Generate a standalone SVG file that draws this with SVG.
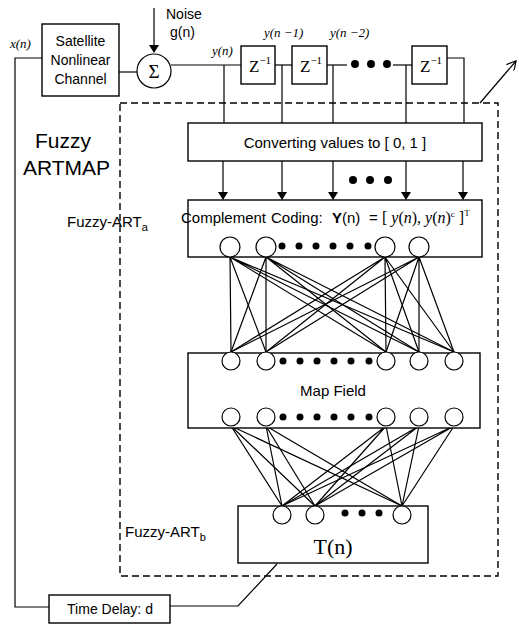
<svg xmlns="http://www.w3.org/2000/svg" width="519" height="624" viewBox="0 0 519 624">
<defs>
<marker id="ah" markerWidth="8" markerHeight="10" refX="7" refY="5" orient="auto" markerUnits="userSpaceOnUse">
<path d="M0,0 L8,5 L0,10 Z" fill="#000"/>
</marker>
<marker id="oa" markerWidth="10" markerHeight="10" refX="9" refY="5" orient="auto" markerUnits="userSpaceOnUse">
<path d="M0,0 L9,5 L0,10" fill="none" stroke="#000" stroke-width="1.2"/>
</marker>
</defs>
<style>
.b{fill:#fff;stroke:#000;stroke-width:1.4}
.l{fill:none;stroke:#000;stroke-width:1.2}
.c{fill:#fff;stroke:#000;stroke-width:1.2}
.d{fill:#000}
.s{font-family:"Liberation Sans",Arial,sans-serif;fill:#000}
.r{font-family:"Liberation Serif","Times New Roman",serif;fill:#000}
.i{font-family:"Liberation Serif","Times New Roman",serif;font-style:italic;fill:#000}
</style>
<rect width="519" height="624" fill="#fff"/>

<g id="connectors">
<path class="l" d="M154,8 V52" marker-end="url(#ah)"/>
<path class="l" d="M42,58 H15 V607 H49"/>
<path class="l" d="M119,72 H137"/>
<path class="l" d="M171,65 H241"/>
<path class="l" d="M275,65 H292"/>
<path class="l" d="M327,65 H347"/>
<path class="l" d="M393,65 H412"/>
<path class="l" d="M447,58 H464 V123"/>
<path class="l" d="M224,65 V123"/>
<path class="l" d="M282,65 V123"/>
<path class="l" d="M333,65 V123"/>
<path class="l" d="M406,65 V123"/>
<path class="l" d="M223,161 V199" marker-end="url(#ah)"/>
<path class="l" d="M282,161 V199" marker-end="url(#ah)"/>
<path class="l" d="M333,161 V199" marker-end="url(#ah)"/>
<path class="l" d="M406,161 V199" marker-end="url(#ah)"/>
<path class="l" d="M463,161 V199" marker-end="url(#ah)"/>
<path class="l" d="M480,103 L516,61" marker-end="url(#oa)"/>
<path class="l" d="M170,606 H238 L277,564"/>
<g class="l">
<path d="M230,257 L231,352 M230,257 L266,352 M230,257 L386,352 M230,257 L419,352 M230,257 L454,352"/>
<path d="M266,257 L231,352 M266,257 L266,352 M266,257 L386,352 M266,257 L419,352 M266,257 L454,352"/>
<path d="M385,257 L231,352 M385,257 L266,352 M385,257 L386,352 M385,257 L419,352 M385,257 L454,352"/>
<path d="M419,257 L231,352 M419,257 L266,352 M419,257 L386,352 M419,257 L419,352 M419,257 L454,352"/>
<path d="M231,370 V408 M266,370 V408 M386,370 V408 M419,370 V408 M454,370 V408"/>
<path d="M231,426 L282,506 M231,426 L315,506 M231,426 L402,506"/>
<path d="M266,426 L282,506 M266,426 L315,506 M266,426 L402,506"/>
<path d="M386,426 L282,506 M386,426 L315,506 M386,426 L402,506"/>
<path d="M419,426 L282,506 M419,426 L315,506 M419,426 L402,506"/>
<path d="M454,426 L282,506 M454,426 L315,506 M454,426 L402,506"/>
</g>
</g>

<g id="fuzzy-artmap">
<rect x="120" y="103" width="378" height="473" fill="none" stroke="#000" stroke-width="1.4" stroke-dasharray="7,4"/>
<text class="s" x="35" y="148" font-size="21">Fuzzy</text>
<text class="s" x="23" y="175" font-size="21">ARTMAP</text>
</g>

<g id="noise">
<text class="s" x="166" y="19" font-size="14">Noise</text>
<text class="s" x="170" y="37" font-size="14">g(n)</text>
</g>

<g id="xn-label"><text class="i" x="10" y="48" font-size="13">x(n)</text></g>

<g id="satellite">
<rect class="b" x="42" y="24" width="77" height="72"/>
<text class="s" x="80.5" y="46" font-size="14" text-anchor="middle">Satellite</text>
<text class="s" x="80.5" y="65" font-size="14" text-anchor="middle">Nonlinear</text>
<text class="s" x="80.5" y="84" font-size="14" text-anchor="middle">Channel</text>
</g>

<g id="sum">
<circle class="c" cx="154" cy="71" r="17"/>
<text class="r" x="154" y="78" font-size="19" text-anchor="middle">Σ</text>
</g>

<g id="yn-label"><text class="i" x="212" y="55" font-size="13">y(n)</text></g>
<g id="yn1-label"><text class="i" x="264" y="37" font-size="13">y(n −1)</text></g>
<g id="yn2-label"><text class="i" x="330" y="37" font-size="13">y(n −2)</text></g>

<g id="z1">
<rect class="b" x="241" y="46" width="34" height="38"/>
<text class="r" x="249" y="72" font-size="17">Z<tspan font-size="11" dy="-8">−1</tspan></text>
</g>
<g id="z2">
<rect class="b" x="292" y="46" width="35" height="38"/>
<text class="r" x="300" y="72" font-size="17">Z<tspan font-size="11" dy="-8">−1</tspan></text>
</g>
<g id="zdots">
<circle class="d" cx="355" cy="64" r="4"/><circle class="d" cx="371" cy="64" r="4"/><circle class="d" cx="387" cy="64" r="4"/>
</g>
<g id="z3">
<rect class="b" x="412" y="46" width="35" height="38"/>
<text class="r" x="420" y="72" font-size="17">Z<tspan font-size="11" dy="-8">−1</tspan></text>
</g>

<g id="converting">
<rect class="b" x="188" y="123" width="294" height="38"/>
<text class="s" x="335" y="148" font-size="15" text-anchor="middle">Converting values to [ 0, 1 ]</text>
<circle class="d" cx="353" cy="180" r="4"/><circle class="d" cx="370" cy="180" r="4"/><circle class="d" cx="388" cy="180" r="4"/>
</g>

<g id="fuzzy-art-a">
<text class="s" x="67" y="227" font-size="15">Fuzzy-ART<tspan font-size="11" dy="4">a</tspan></text>
<rect class="b" x="188" y="200" width="294" height="57"/>
<text class="s" x="181" y="223" font-size="15">Complement</text>
<text class="s" x="271" y="223" font-size="15">Coding:</text>
<text class="s" x="332" y="223" font-size="15"><tspan font-weight="bold">Y</tspan>(n)</text>
<text class="s" x="369" y="223" font-size="15">=</text>
<text class="r" x="382" y="223" font-size="16">[ <tspan class="i">y</tspan>(<tspan class="i">n</tspan>), <tspan class="i">y</tspan>(<tspan class="i">n</tspan>)<tspan font-size="9" dy="-6">c</tspan><tspan dy="6"> ]</tspan><tspan font-size="9" dy="-7">T</tspan></text>
<circle class="c" cx="230" cy="247" r="10"/>
<circle class="c" cx="266" cy="247" r="10"/>
<circle class="c" cx="385" cy="247" r="10"/>
<circle class="c" cx="419" cy="247" r="10"/>
<circle class="d" cx="282" cy="246" r="3.5"/><circle class="d" cx="299" cy="246" r="3.5"/><circle class="d" cx="316" cy="246" r="3.5"/><circle class="d" cx="333" cy="246" r="3.5"/><circle class="d" cx="350" cy="246" r="3.5"/><circle class="d" cx="368" cy="246" r="3.5"/>
</g>

<g id="map-field">
<rect class="b" x="188" y="353" width="292" height="75" fill="none"/>
<text class="s" x="333" y="396" font-size="15" text-anchor="middle">Map Field</text>
<circle class="c" cx="231" cy="361" r="9"/><circle class="c" cx="266" cy="361" r="9"/><circle class="c" cx="386" cy="361" r="9"/><circle class="c" cx="419" cy="361" r="9"/><circle class="c" cx="454" cy="361" r="9"/>
<circle class="c" cx="231" cy="417" r="9"/><circle class="c" cx="266" cy="417" r="9"/><circle class="c" cx="386" cy="417" r="9"/><circle class="c" cx="419" cy="417" r="9"/><circle class="c" cx="454" cy="417" r="9"/>
<circle class="d" cx="283" cy="361" r="3.5"/><circle class="d" cx="300" cy="361" r="3.5"/><circle class="d" cx="317" cy="361" r="3.5"/><circle class="d" cx="334" cy="361" r="3.5"/><circle class="d" cx="351" cy="361" r="3.5"/><circle class="d" cx="369" cy="361" r="3.5"/>
<circle class="d" cx="283" cy="417" r="3.5"/><circle class="d" cx="300" cy="417" r="3.5"/><circle class="d" cx="317" cy="417" r="3.5"/><circle class="d" cx="334" cy="417" r="3.5"/><circle class="d" cx="351" cy="417" r="3.5"/><circle class="d" cx="369" cy="417" r="3.5"/>
</g>

<g id="fuzzy-art-b">
<text class="s" x="125" y="537" font-size="15">Fuzzy-ART<tspan font-size="11" dy="4">b</tspan></text>
<rect class="b" x="238" y="506" width="190" height="57" fill="none"/>
<circle class="c" cx="282" cy="515" r="9"/><circle class="c" cx="315" cy="515" r="9"/><circle class="c" cx="402" cy="515" r="9"/>
<circle class="d" cx="345" cy="513" r="3.5"/><circle class="d" cx="362" cy="513" r="3.5"/><circle class="d" cx="379" cy="513" r="3.5"/>
<text class="r" x="333" y="554" font-size="22" text-anchor="middle">T(n)</text>
</g>

<g id="time-delay">
<rect class="b" x="49" y="595" width="121" height="28"/>
<text class="s" x="110" y="614" font-size="14" text-anchor="middle">Time Delay: d</text>
</g>
</svg>
